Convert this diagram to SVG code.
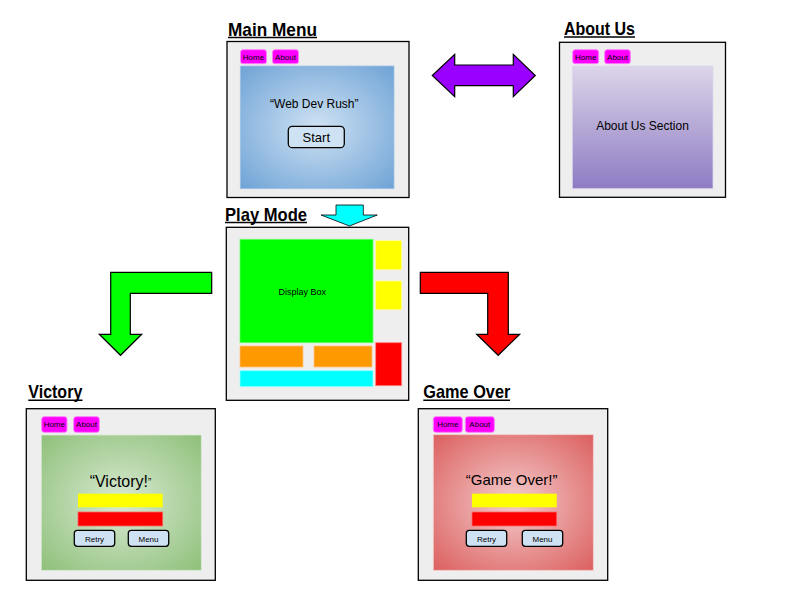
<svg xmlns="http://www.w3.org/2000/svg" width="800" height="600" viewBox="0 0 800 600">
<defs>
<radialGradient id="gBlue" cx="50%" cy="50%" r="70%"><stop offset="0" stop-color="#cfe2f3"/><stop offset="1" stop-color="#6fa3d6"/></radialGradient>
<linearGradient id="gPurple" x1="0" y1="0" x2="0" y2="1"><stop offset="0" stop-color="#dcd5ea"/><stop offset="1" stop-color="#8e7cc3"/></linearGradient>
<radialGradient id="gGreen" cx="50%" cy="50%" r="70%"><stop offset="0" stop-color="#d9ead3"/><stop offset="1" stop-color="#8fc07a"/></radialGradient>
<radialGradient id="gRed" cx="50%" cy="50%" r="70%"><stop offset="0" stop-color="#f4cccc"/><stop offset="1" stop-color="#dc6060"/></radialGradient>
</defs>
<style>
.frame{fill:#eeeeee;stroke:#000;stroke-width:1.3}
.title{font-family:"Liberation Sans",Arial,sans-serif;font-weight:bold;font-size:18.5px;fill:#000}
.ul{stroke:#000;stroke-width:1.5}
.nav{fill:#ff00ff;stroke:#ff80ff;stroke-width:1}
.navt{font-family:"Liberation Sans",Arial,sans-serif;font-size:8px;fill:#000;text-anchor:middle}
.t{font-family:"Liberation Sans",Arial,sans-serif;fill:#000;text-anchor:middle}
.btn{fill:#cfe2f3;stroke:#000;stroke-width:1.3}
.arrow{stroke:#000;stroke-width:1.2}
.blk{stroke-width:0.8}
</style>

<g id="main-menu">
<text class="title" x="228" y="35.5" textLength="89" lengthAdjust="spacingAndGlyphs">Main Menu</text>
<line class="ul" x1="228" y1="37.5" x2="317" y2="37.5"/>
<rect class="frame" x="227" y="41.5" width="182" height="156"/>
<rect x="272.5" y="49.7" width="26" height="14" rx="2.5" class="nav"/>
<rect x="240.5" y="49.7" width="26" height="14" rx="2.5" class="nav"/>
<text class="navt" x="253.5" y="59.5">Home</text>
<text class="navt" x="285.5" y="59.5">About</text>
<rect x="240.3" y="66" width="153.7" height="122.7" fill="url(#gBlue)" stroke="#9fc2e6" stroke-width="0.8"/>
<text class="t" x="314.3" y="108" font-size="12">“Web Dev Rush”</text>
<rect class="btn" x="288.3" y="126.3" width="56" height="21.4" rx="4"/>
<text class="t" x="316.3" y="141.5" font-size="13">Start</text>
</g>

<g id="about-us">
<text class="title" x="564" y="35" textLength="71" lengthAdjust="spacingAndGlyphs">About Us</text>
<line class="ul" x1="564" y1="37" x2="635" y2="37"/>
<rect class="frame" x="559.5" y="42.3" width="166" height="155"/>
<rect x="572.7" y="49.7" width="26" height="14" rx="2.5" class="nav"/>
<rect x="604.7" y="49.7" width="25.6" height="14" rx="2.5" class="nav"/>
<text class="navt" x="585.7" y="59.5">Home</text>
<text class="navt" x="617.5" y="59.5">About</text>
<rect x="572.3" y="66" width="140.7" height="122.7" fill="url(#gPurple)" stroke="#ddd8ea" stroke-width="0.8"/>
<text class="t" x="642.5" y="129.5" font-size="12">About Us Section</text>
</g>

<g id="play-mode">
<text class="title" x="225" y="220.5" textLength="82" lengthAdjust="spacingAndGlyphs">Play Mode</text>
<line class="ul" x1="225" y1="222.5" x2="307" y2="222.5"/>
<rect class="frame" x="226.3" y="227.3" width="182.4" height="173"/>
<rect x="240" y="239.3" width="133" height="103.4" fill="#00ff00" stroke="#66ff66" stroke-width="0.8"/>
<text class="t" x="302.3" y="295" font-size="9">Display Box</text>
<rect x="375.7" y="240.7" width="26" height="29" fill="#ffff00" stroke="#ffff99" stroke-width="0.8"/>
<rect x="375.7" y="281" width="26" height="28.7" fill="#ffff00" stroke="#ffff99" stroke-width="0.8"/>
<rect x="375.7" y="342.7" width="26" height="43" fill="#ff0000" stroke="#ff8080" stroke-width="0.8"/>
<rect x="240" y="346" width="63" height="21" fill="#ff9900" stroke="#ffc080" stroke-width="0.8"/>
<rect x="314" y="346" width="58" height="21" fill="#ff9900" stroke="#ffc080" stroke-width="0.8"/>
<rect x="240" y="370.7" width="133" height="16" fill="#00ffff" stroke="#99ffff" stroke-width="0.8"/>
</g>

<g id="victory">
<text class="title" x="28.3" y="398.3" textLength="54" lengthAdjust="spacingAndGlyphs">Victory</text>
<line class="ul" x1="28.3" y1="400.3" x2="82.5" y2="400.3"/>
<rect class="frame" x="26.3" y="408.7" width="189" height="171.6"/>
<rect x="41.7" y="416.7" width="25.3" height="15.6" rx="2.5" class="nav"/>
<rect x="73.7" y="416.7" width="25.6" height="15.6" rx="2.5" class="nav"/>
<text class="navt" x="54.3" y="427.3">Home</text>
<text class="navt" x="86.5" y="427.3">About</text>
<rect x="41.3" y="435" width="160" height="135.3" fill="url(#gGreen)" stroke="#d9ead3" stroke-width="0.8"/>
<text class="t" x="120.5" y="486.5" font-size="16">“Victory!<tspan font-size="10" dy="-1">”</tspan></text>
<rect x="78" y="493.7" width="84.7" height="13.6" fill="#ffff00"/>
<rect x="78" y="512" width="84.7" height="14" fill="#ff0000" stroke="#ff6666" stroke-width="0.8"/>
<rect class="btn" x="74.3" y="530.3" width="40.4" height="16" rx="3"/>
<rect class="btn" x="128.3" y="530.3" width="40.4" height="16" rx="3"/>
<text class="t" x="94.5" y="541.5" font-size="8">Retry</text>
<text class="t" x="148.5" y="541.5" font-size="8">Menu</text>
</g>

<g id="game-over">
<text class="title" x="423.3" y="398.3" textLength="87" lengthAdjust="spacingAndGlyphs">Game Over</text>
<line class="ul" x1="423.3" y1="400.3" x2="510" y2="400.3"/>
<rect class="frame" x="418.3" y="408.7" width="189.4" height="171.6"/>
<rect x="433.3" y="416.7" width="29" height="15.6" rx="2.5" class="nav"/>
<rect x="465.3" y="416.7" width="29" height="15.6" rx="2.5" class="nav"/>
<text class="navt" x="447.8" y="427.3">Home</text>
<text class="navt" x="479.8" y="427.3">About</text>
<rect x="433.3" y="434.7" width="160" height="135.6" fill="url(#gRed)" stroke="#f4cccc" stroke-width="0.8"/>
<text class="t" x="511.7" y="484.5" font-size="15">“Game Over!”</text>
<rect x="472" y="493.7" width="84.7" height="13.6" fill="#ffff00"/>
<rect x="472" y="512" width="84.7" height="14" fill="#ff0000" stroke="#ff6666" stroke-width="0.8"/>
<rect class="btn" x="466.3" y="530.3" width="40.4" height="16" rx="3"/>
<rect class="btn" x="522.3" y="530.3" width="40.4" height="16" rx="3"/>
<text class="t" x="486.5" y="541.5" font-size="8">Retry</text>
<text class="t" x="542.5" y="541.5" font-size="8">Menu</text>
</g>

<g id="connectors">
<path class="arrow" fill="#9900ff" d="M432.3,75.5 L454.7,54.3 L454.7,65 L513.3,65 L513.3,54.3 L535.3,75.5 L513.3,96.7 L513.3,85.7 L454.7,85.7 L454.7,96.7 Z"/>
<path class="arrow blk" fill="#00ffff" d="M336,205 L363.3,205 L363.3,215 L377.3,215 L349.5,226 L321,215 L336,215 Z"/>
<path class="arrow" fill="#00ff00" d="M211.7,272.3 L110.7,272.3 L110.7,334.3 L99.3,334.3 L120.5,355.3 L141.7,334.3 L130.3,334.3 L130.3,293.3 L211.7,293.3 Z"/>
<path class="arrow" fill="#ff0000" d="M420.3,272.3 L508.3,272.3 L508.3,334.3 L519.7,334.3 L498.2,355.3 L476.7,334.3 L487.7,334.3 L487.7,293.3 L420.3,293.3 Z"/>
</g>
</svg>
